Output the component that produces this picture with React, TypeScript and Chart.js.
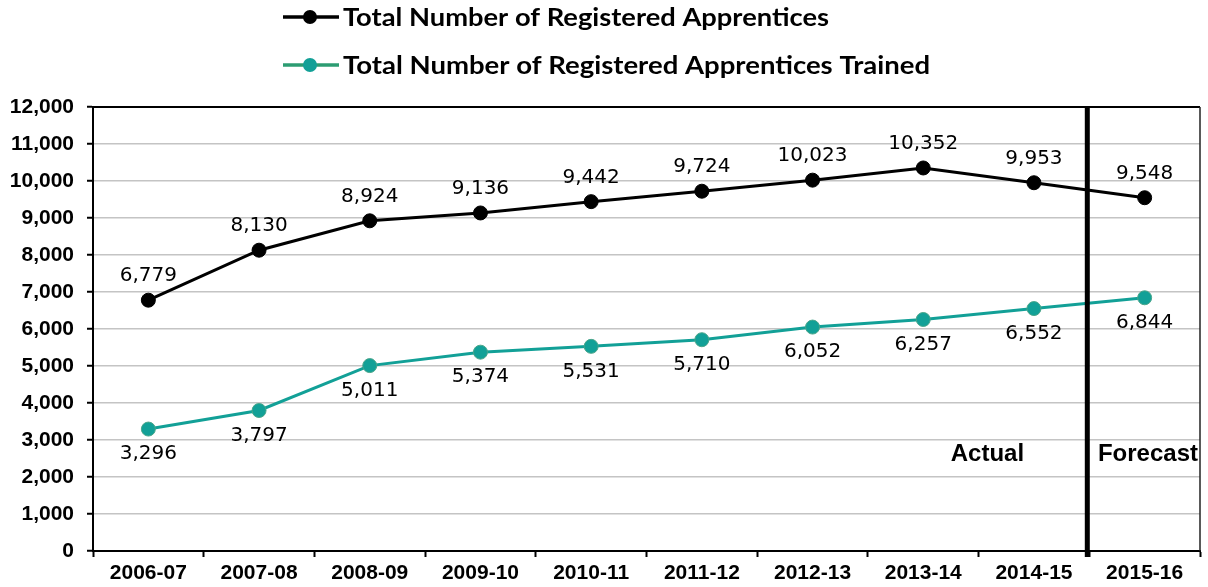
import React, { useEffect, useRef } from 'react';
import { Chart, registerables } from 'chart.js';

Chart.register(...registerables);

const categories = ['2006-07', '2007-08', '2008-09', '2009-10', '2010-11', '2011-12', '2012-13', '2013-14', '2014-15', '2015-16'];
const registeredApprentices = [6779, 8130, 8924, 9136, 9442, 9724, 10023, 10352, 9953, 9548];
const apprenticesTrained = [3296, 3797, 5011, 5374, 5531, 5710, 6052, 6257, 6552, 6844];
const seriesNames = ['Total Number of Registered Apprentices', 'Total Number of Registered Apprentices Trained'];
const yMax = 12000;
const yStep = 1000;
const periodLabels = ['Actual', 'Forecast'];

const BLACK = '#000000';
const TEAL = '#12a097';

const fmt = (v: number) => v.toLocaleString('en-US');

const dataLabelPlugin = {
  id: 'dataLabels',
  afterDatasetsDraw(chart: any) {
    const ctx = chart.ctx;
    ctx.save();
    ctx.font = '20px "DejaVu Sans"';
    ctx.fillStyle = '#000';
    ctx.textAlign = 'center';
    ctx.textBaseline = 'middle';
    chart.data.datasets.forEach((ds: any, di: number) => {
      const meta = chart.getDatasetMeta(di);
      meta.data.forEach((pt: any, i: number) => {
        const off = di === 0 ? -24 : 25;
        ctx.fillText(fmt(ds.data[i]), pt.x, pt.y + off);
      });
    });
    ctx.restore();
  },
};

const framePlugin = {
  id: 'frame',
  afterDraw(chart: any) {
    const ctx = chart.ctx;
    const a = chart.chartArea;
    const xs = chart.scales.x;
    ctx.save();
    // top border
    ctx.strokeStyle = '#000';
    ctx.lineWidth = 2;
    ctx.beginPath();
    ctx.moveTo(a.left, a.top);
    ctx.lineTo(a.right, a.top);
    ctx.stroke();
    // right border
    ctx.strokeStyle = '#222';
    ctx.lineWidth = 1.5;
    ctx.beginPath();
    ctx.moveTo(a.right, a.top);
    ctx.lineTo(a.right, a.bottom);
    ctx.stroke();
    // actual / forecast separator
    const sx = xs.getPixelForValue(8.5) - 2;
    ctx.strokeStyle = '#000';
    ctx.lineWidth = 5;
    ctx.beginPath();
    ctx.moveTo(sx, a.top);
    ctx.lineTo(sx, a.bottom + 6);
    ctx.stroke();
    // period labels
    const ys = chart.scales.y;
    ctx.fillStyle = '#000';
    ctx.font = 'bold 24px "Liberation Sans"';
    ctx.textAlign = 'center';
    ctx.textBaseline = 'middle';
    ctx.fillText(periodLabels[0], xs.getPixelForValue(7.58), ys.getPixelForValue(2600));
    ctx.fillText(periodLabels[1], xs.getPixelForValue(9.03), ys.getPixelForValue(2600));

    // legend
    const colors = [BLACK, TEAL];
    const rowsY = [17, 65];
    seriesNames.forEach((name, i) => {
      const y = rowsY[i];
      ctx.strokeStyle = i === 0 ? BLACK : '#2c9c72';
      ctx.lineWidth = 3.5;
      ctx.beginPath();
      ctx.moveTo(283, y);
      ctx.lineTo(339, y);
      ctx.stroke();
      ctx.fillStyle = colors[i];
      ctx.beginPath();
      ctx.arc(310, y, 7, 0, Math.PI * 2);
      ctx.fill();
      ctx.fillStyle = '#000';
      ctx.textAlign = 'left';
      ctx.textBaseline = 'middle';
      const target = i === 0 ? 486 : 587;
      ctx.font = 'bold 25px Lato';
      const w = ctx.measureText(name).width;
      const sxScale = target / w;
      ctx.save();
      ctx.translate(343, y + 1);
      ctx.scale(sxScale, 1);
      ctx.fillText(name, 0, 0);
      ctx.restore();
    });
    ctx.restore();
  },
};

export default function App() {
  const ref = useRef<HTMLCanvasElement | null>(null);
  useEffect(() => {
    if (!ref.current) return;
    const chart = new Chart(ref.current, {
      type: 'line',
      data: {
        labels: categories,
        datasets: [
          {
            label: seriesNames[0],
            data: registeredApprentices,
            borderColor: BLACK,
            backgroundColor: BLACK,
            borderWidth: 3,
            pointRadius: 7,
            pointBackgroundColor: BLACK,
            pointBorderColor: BLACK,
            pointBorderWidth: 1,
            tension: 0,
          },
          {
            label: seriesNames[1],
            data: apprenticesTrained,
            borderColor: TEAL,
            backgroundColor: TEAL,
            borderWidth: 3,
            pointRadius: 7,
            pointBackgroundColor: TEAL,
            pointBorderColor: '#4aa58a',
            pointBorderWidth: 1,
            tension: 0,
          },
        ],
      },
      options: {
        animation: false,
        responsive: true,
        maintainAspectRatio: false,
        layout: { padding: { top: 107, left: 0, right: 7, bottom: 0 } },
        plugins: {
          legend: { display: false },
          tooltip: { enabled: false },
        },
        scales: {
          x: {
            type: 'category',
            offset: true,
            grid: {
              offset: true,
              drawOnChartArea: false,
              drawTicks: true,
              tickLength: 6,
              tickColor: '#000',
              tickWidth: 2,
            },
            border: { color: '#000', width: 2 },
            ticks: {
              color: '#000',
              font: { family: '"Liberation Sans"', size: 21, weight: 'bold' },
              padding: 4,
              maxRotation: 0,
              autoSkip: false,
            },
            afterFit(scale: any) {
              scale.height = 36;
            },
          },
          y: {
            min: 0,
            max: yMax,
            grid: {
              color: '#c4c4c4',
              lineWidth: 1.5,
              tickLength: 6,
              tickColor: '#000',
              tickWidth: 2,
            },
            border: { color: '#000', width: 2 },
            ticks: {
              stepSize: yStep,
              color: '#000',
              font: { family: '"Liberation Sans"', size: 21, weight: 'bold' },
              padding: 13,
              callback: (v: any) => fmt(Number(v)),
            },
            afterFit(scale: any) {
              scale.width = 93;
            },
          },
        },
      },
      plugins: [dataLabelPlugin, framePlugin],
    } as any);
    return () => chart.destroy();
  }, []);
  return (
    <div style={{ position: 'absolute', left: 0, top: 0, width: 1208, height: 587, background: '#fff' }}>
      <canvas ref={ref} />
    </div>
  );
}
